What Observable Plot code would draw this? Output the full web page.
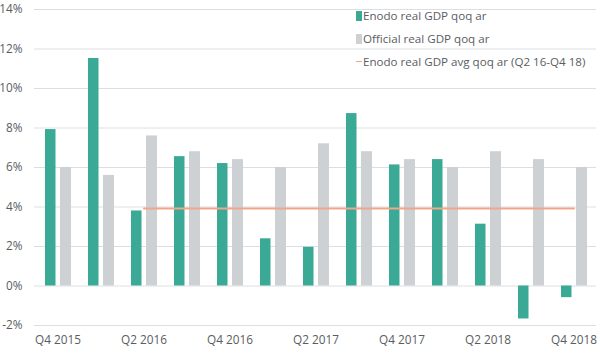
<!DOCTYPE html>
<html><head><meta charset="utf-8">
<script src="https://cdn.jsdelivr.net/npm/d3@7"></script>
<script src="https://cdn.jsdelivr.net/npm/@observablehq/plot@0.6"></script>
<style>
body{margin:0;background:#fff;font-family:"Open Sans",sans-serif;}
#wrap{position:relative;width:600px;height:360px;}
#legend{position:absolute;left:356px;top:4px;font-size:11.6px;color:#595d62;line-height:23px;}
#legend .it{display:flex;align-items:center;white-space:nowrap;}
#legend .sw{display:inline-block;width:6px;height:10px;margin-right:1px;}
#legend .ln{display:inline-block;width:6px;height:1.5px;margin-right:1px;}
</style></head><body>
<div id="wrap"><div id="chart"></div><div id="legend"></div></div>
<script>
const quarters = ["Q4 2015","Q1 2016","Q2 2016","Q3 2016","Q4 2016","Q1 2017","Q2 2017","Q3 2017","Q4 2017","Q1 2018","Q2 2018","Q3 2018","Q4 2018"];
const enodo =    [7.92, 11.52, 3.8, 6.55, 6.2, 2.39, 1.96, 8.73, 6.13, 6.4, 3.13, -1.67, -0.59];
const official = [6.0, 5.6, 7.6, 6.8, 6.4, 6.0, 7.2, 6.8, 6.4, 6.0, 6.8, 6.4, 6.0];
const avgQuarters = quarters.slice(2);
const avgValue = 3.92;
const xTickLabels = ["Q4 2015","Q2 2016","Q4 2016","Q2 2017","Q4 2017","Q2 2018","Q4 2018"];
const yTicks = [-2,0,2,4,6,8,10,12,14];
const seriesNames = ["Enodo real GDP qoq ar","Official real GDP qoq ar","Enodo real GDP avg qoq ar (Q2 16-Q4 18)"];
const colors = {green:"#3aa996", gray:"#cdd1d4", avg:"#f2a58a", grid:"#dcdfe2", text:"#595d62"};

const enodoData = quarters.map((q,i)=>({quarter:q, value:enodo[i]}));
const officialData = quarters.map((q,i)=>({quarter:q, value:official[i]}));
const avgData = avgQuarters.map(q=>({quarter:q, value:avgValue}));

const chart = Plot.plot({
  width:600, height:360,
  marginLeft:34, marginRight:4, marginTop:9, marginBottom:35,
  style:{fontFamily:"Open Sans, sans-serif", fontSize:"11.8px", color:colors.text, background:"#fff"},
  x:{type:"band", domain:quarters, padding:0},
  y:{domain:[-2,14]},
  marks:[
    Plot.gridY(yTicks,{stroke:colors.grid, strokeOpacity:1, strokeWidth:1}),
    Plot.axisY(yTicks,{tickSize:0, tickPadding:12, tickFormat:d=>d+"%", fill:colors.text, label:null}),
    Plot.axisX(xTickLabels,{tickSize:0, tickPadding:10, fill:colors.text, label:null}),
    Plot.barY(enodoData,{x:"quarter", y:"value", fill:colors.green, insetLeft:9, insetRight:23.5}),
    Plot.barY(officialData,{x:"quarter", y:"value", fill:colors.gray, insetLeft:24, insetRight:8}),
    Plot.lineY(avgData,{x:"quarter", y:"value", stroke:colors.avg, strokeWidth:2})
  ]
});
document.getElementById("chart").appendChild(chart);

const legend = document.getElementById("legend");
const items = [
  {name:seriesNames[0], color:colors.green, type:"sw"},
  {name:seriesNames[1], color:colors.gray, type:"sw"},
  {name:seriesNames[2], color:colors.avg, type:"ln"}
];
for (const it of items) {
  const d = document.createElement("div"); d.className="it";
  const s = document.createElement("span"); s.className=it.type; s.style.background=it.color;
  d.appendChild(s); d.appendChild(document.createTextNode(it.name));
  legend.appendChild(d);
}
</script>
</body></html>
